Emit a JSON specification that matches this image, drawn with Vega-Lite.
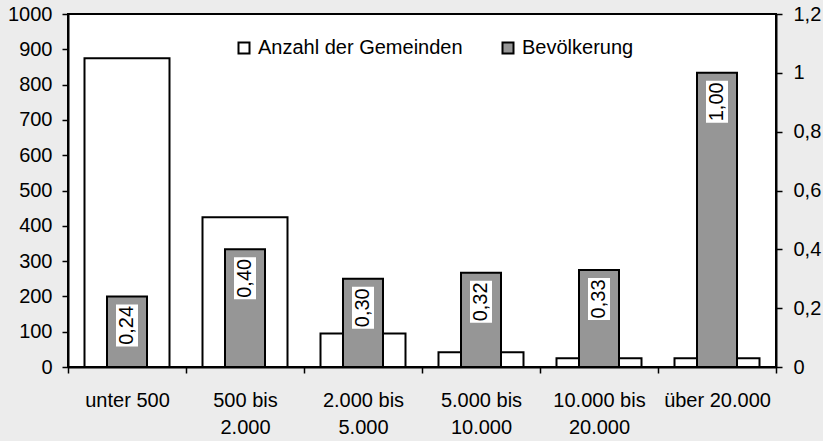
{
  "$schema": "https://vega.github.io/schema/vega-lite/v6.json",
  "width": 708,
  "height": 353,
  "autosize": {"type": "none"},
  "padding": {"left": 68, "top": 14, "right": 47, "bottom": 74},
  "background": "#ececec",
  "config": {
    "locale": {"number": {"decimal": ",", "thousands": ".", "grouping": [3], "currency": ["", " €"]}},
    "font": "Liberation Sans",
    "view": {"stroke": "black", "strokeWidth": 2, "fill": "white"},
    "axis": {
      "grid": false,
      "domainColor": "black",
      "domainWidth": 2,
      "tickColor": "black",
      "tickWidth": 1.5,
      "tickSize": 6,
      "labelColor": "black",
      "labelFont": "Liberation Sans",
      "labelFontSize": 20,
      "title": null
    }
  },
  "data": {
    "values": [
      {"Kategorie": "unter 500", "Gemeinden": 875, "Bevoelkerung": 0.24},
      {"Kategorie": "500 bis 2.000", "Gemeinden": 424, "Bevoelkerung": 0.40},
      {"Kategorie": "2.000 bis 5.000", "Gemeinden": 95, "Bevoelkerung": 0.30},
      {"Kategorie": "5.000 bis 10.000", "Gemeinden": 42, "Bevoelkerung": 0.32},
      {"Kategorie": "10.000 bis 20.000", "Gemeinden": 25, "Bevoelkerung": 0.33},
      {"Kategorie": "über 20.000", "Gemeinden": 25, "Bevoelkerung": 1.00}
    ]
  },
  "encoding": {
    "x": {
      "field": "Kategorie",
      "type": "nominal",
      "sort": null,
      "scale": {"paddingInner": 0, "paddingOuter": 0},
      "axis": {
        "labelAngle": 0,
        "tickBand": "extent",
        "labelPadding": 17,
        "labelLineHeight": 27,
        "labelLimit": 0,
        "labelExpr": "indexof(datum.label,' bis ')>0 ? [slice(datum.label,0,indexof(datum.label,' bis ')+4), slice(datum.label,indexof(datum.label,' bis ')+5)] : datum.label"
      }
    }
  },
  "layer": [
    {
      "mark": {"type": "bar", "size": 85, "stroke": "black", "strokeWidth": 2},
      "encoding": {
        "y": {
          "field": "Gemeinden",
          "type": "quantitative",
          "scale": {"domain": [0, 1000]},
          "axis": {"orient": "left", "tickCount": 10, "format": "d", "labelPadding": 10}
        },
        "color": {
          "datum": "Anzahl der Gemeinden",
          "type": "nominal",
          "scale": {"domain": ["Anzahl der Gemeinden", "Bevölkerung"], "range": ["white", "#969696"]},
          "legend": {
            "title": null,
            "orient": "none",
            "legendX": 166,
            "legendY": 24,
            "direction": "horizontal",
            "symbolType": "square",
            "symbolSize": 121,
            "symbolStrokeColor": "black",
            "symbolStrokeWidth": 2,
            "symbolOpacity": 1,
            "labelFontSize": 20,
            "labelFont": "Liberation Sans",
            "labelColor": "black",
            "labelLimit": 0,
            "labelOffset": 4,
            "columnPadding": 35
          }
        }
      }
    },
    {
      "encoding": {
        "y": {
          "field": "Bevoelkerung",
          "type": "quantitative",
          "scale": {"domain": [0, 1.2]},
          "axis": {"orient": "right", "tickCount": 6, "format": ".1~f", "labelPadding": 11}
        }
      },
      "layer": [
        {
          "mark": {"type": "bar", "size": 40, "stroke": "black", "strokeWidth": 2},
          "encoding": {"color": {"datum": "Bevölkerung", "type": "nominal"}}
        },
        {
          "mark": {
            "type": "point",
            "shape": "M -0.524 -1 L 0.524 -1 L 0.524 1 L -0.524 1 Z",
            "size": 1764,
            "filled": true,
            "fill": "white",
            "strokeWidth": 0,
            "opacity": 1,
            "yOffset": 29
          }
        },
        {
          "mark": {"type": "text", "angle": 270, "fontSize": 20, "yOffset": 29, "baseline": "middle", "align": "center", "color": "black"},
          "encoding": {"text": {"field": "Bevoelkerung", "type": "quantitative", "format": ".2f"}}
        }
      ]
    }
  ],
  "resolve": {"scale": {"y": "independent"}}
}
